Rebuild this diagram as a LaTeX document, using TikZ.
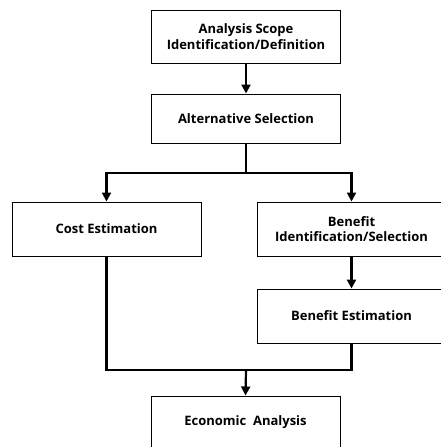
\documentclass[tikz,border=0pt]{standalone}
\usepackage{fontspec}
\setmainfont{Open Sans}
\usetikzlibrary{arrows.meta}
\begin{document}
\begin{tikzpicture}[x=1pt,y=-1pt,
  box/.style={draw=black,line width=1pt,fill=white,minimum width=189pt,align=center,font=\bfseries\fontsize{13}{15.5}\selectfont,inner sep=0pt},
  conn/.style={draw=black,line width=2.2pt,line join=miter},
  arr/.style={conn,-{Triangle[length=9pt,width=9pt]}}]
\useasboundingbox (0,0) rectangle (441,447);
\clip (0,0) rectangle (441,447);
\node[box,minimum height=53pt] (b1) at (246,36.5) {Analysis Scope\\Identification/Definition};
\node[box,minimum height=49pt] (b2) at (246,118.5) {Alternative Selection};
\node[box,minimum height=54pt] (cost) at (106.5,229) {Cost Estimation};
\node[box,minimum height=54pt] (benid) at (351.5,229) {Benefit\\Identification/Selection};
\node[box,minimum height=54pt] (benest) at (351.5,316) {Benefit Estimation};
\node[box,minimum height=53pt] (econ) at (245.5,422.5) {Economic\ \ Analysis};
\coordinate (split) at (246,173);
\coordinate (merge) at (246,370);
\draw[arr] (b1.south) -- (b2.north);
\draw[conn] (b2.south) -- (split);
\draw[arr] (split) -| (cost.north);
\draw[arr] (split) -| (benid.north);
\draw[arr] (benid.south) -- (benest.north);
\draw[conn] (cost.south) |- (merge);
\draw[conn] (benest.south) |- (merge);
\draw[arr] (merge) -- (econ.north);
\end{tikzpicture}
\end{document}
